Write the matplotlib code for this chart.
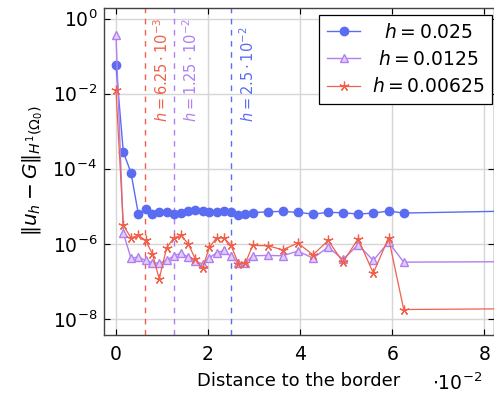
import numpy as np
import matplotlib
matplotlib.use("Agg")
import matplotlib.pyplot as plt

plt.rcParams['font.family'] = ['DejaVu Sans']
plt.rcParams['mathtext.fontset'] = 'dejavusans'

# x positions in units of 1e-2
x_pts = [0.0, 0.16, 0.326, 0.485, 0.645, 0.79, 0.94, 1.1, 1.26, 1.41, 1.57, 1.72,
         1.88, 2.03, 2.19, 2.34, 2.5, 2.66, 2.81, 2.97, 3.3, 3.62, 3.95, 4.28,
         4.61, 4.93, 5.26, 5.59, 5.92, 6.25, 12.5]

# log10 of error values
log_h025 = [-1.25, -3.56, -4.107, -5.2, -5.076, -5.2, -5.147, -5.164, -5.218, -5.182,
            -5.129, -5.093, -5.138, -5.164, -5.164, -5.138, -5.156, -5.227, -5.2,
            -5.173, -5.147, -5.138, -5.164, -5.209, -5.164, -5.173, -5.209, -5.182,
            -5.129, -5.182, -5.04]
log_h0125 = [-0.43, -5.716, -6.382, -6.356, -6.444, -6.507, -6.516, -6.444, -6.32,
             -6.249, -6.356, -6.471, -6.533, -6.373, -6.24, -6.178, -6.338, -6.516,
             -6.516, -6.32, -6.311, -6.32, -6.196, -6.382, -6.089, -6.418, -6.027,
             -6.444, -5.956, -6.489, -6.46]
log_h00625 = [-1.9, -5.511, -5.84, -5.778, -5.911, -6.267, -6.933, -6.107, -5.84,
              -5.778, -6.0, -6.4, -6.649, -6.089, -5.84, -5.84, -6.044, -6.533,
              -6.516, -6.044, -6.053, -6.16, -5.982, -6.293, -5.911, -6.489, -5.867,
              -6.782, -5.84, -7.751, -7.70]

labels = ["$\\ \\ h = 0.025$", "$\\ h = 0.0125$", "$h = 0.00625$"]
h_lines = [0.625, 1.25, 2.5]
h_texts = ["$h = 6.25\\cdot10^{-3}$", "$h = 1.25\\cdot10^{-2}$", "$h = 2.5\\cdot10^{-2}$"]

c_blue = '#5a6cf2'
c_purple = '#b07ff2'
c_red = '#f0604a'

fig = plt.figure(figsize=(4.94, 3.96), dpi=100)
ax = fig.add_axes([104/494, 61/396, 389.5/494, 327.5/396])

ax.plot(x_pts, 10**np.array(log_h025), color=c_blue, lw=1.0, marker='o', ms=6,
        mec=c_blue, mfc=c_blue, label=labels[0], zorder=3)
ax.plot(x_pts, 10**np.array(log_h0125), color=c_purple, lw=1.0, marker='^', ms=6,
        mec=c_purple, mfc='#e2cdfb', mew=1.0, label=labels[1], zorder=3)
ax.plot(x_pts, 10**np.array(log_h00625), color=c_red, lw=0.9, marker=(5, 2, 0), ms=7,
        mec=c_red, mew=0.9, label=labels[2], zorder=3)

line_colors = [c_red, c_purple, c_blue]
for hv, txt, col in zip(h_lines, h_texts, line_colors):
    ax.axvline(hv, color=col, lw=1.0, ls=(0, (4, 4)), zorder=2)
    ax.text(hv + 0.37, 1.7e-3, txt, rotation=90, ha='center', va='bottom',
            color=col, fontsize=10.5)

ax.set_yscale('log')
ax.set_xlim(-0.26, 8.2)
ax.set_ylim(10**-8.43, 10**0.293)
ax.set_xticks([0, 2, 4, 6, 8])
ax.set_yticks([1e0, 1e-2, 1e-4, 1e-6, 1e-8])
ax.yaxis.set_minor_locator(matplotlib.ticker.NullLocator())
ax.tick_params(direction='in', top=True, right=True, length=4, labelsize=13.5,
               width=0.8)
ax.tick_params(axis='x', pad=7)
ax.tick_params(axis='y', pad=5)
ax.grid(True, color='#d6d6d6', lw=1.0, zorder=0)
ax.set_axisbelow(True)
for s in ax.spines.values():
    s.set_color('#444444')
    s.set_linewidth(1.0)

ax.set_xlabel('Distance to the border', fontsize=13, labelpad=6)
ax.set_ylabel('$\\Vert u_h - G\\Vert_{H^1(\\mathit{\\Omega}_0)}$', fontsize=14.5, labelpad=5)
ax.text(0.97, -0.147, '$\\cdot10^{-2}$', transform=ax.transAxes, ha='right',
        va='center', fontsize=13.5)

leg = ax.legend(loc='upper right', bbox_to_anchor=(0.996, 0.977), borderaxespad=0,
                fancybox=False, edgecolor='black', framealpha=1, fontsize=13.5,
                handlelength=1.8, labelspacing=0.45, borderpad=0.4, handletextpad=0.6)
leg.get_frame().set_linewidth(0.9)

fig.savefig('out.png', dpi=100)
